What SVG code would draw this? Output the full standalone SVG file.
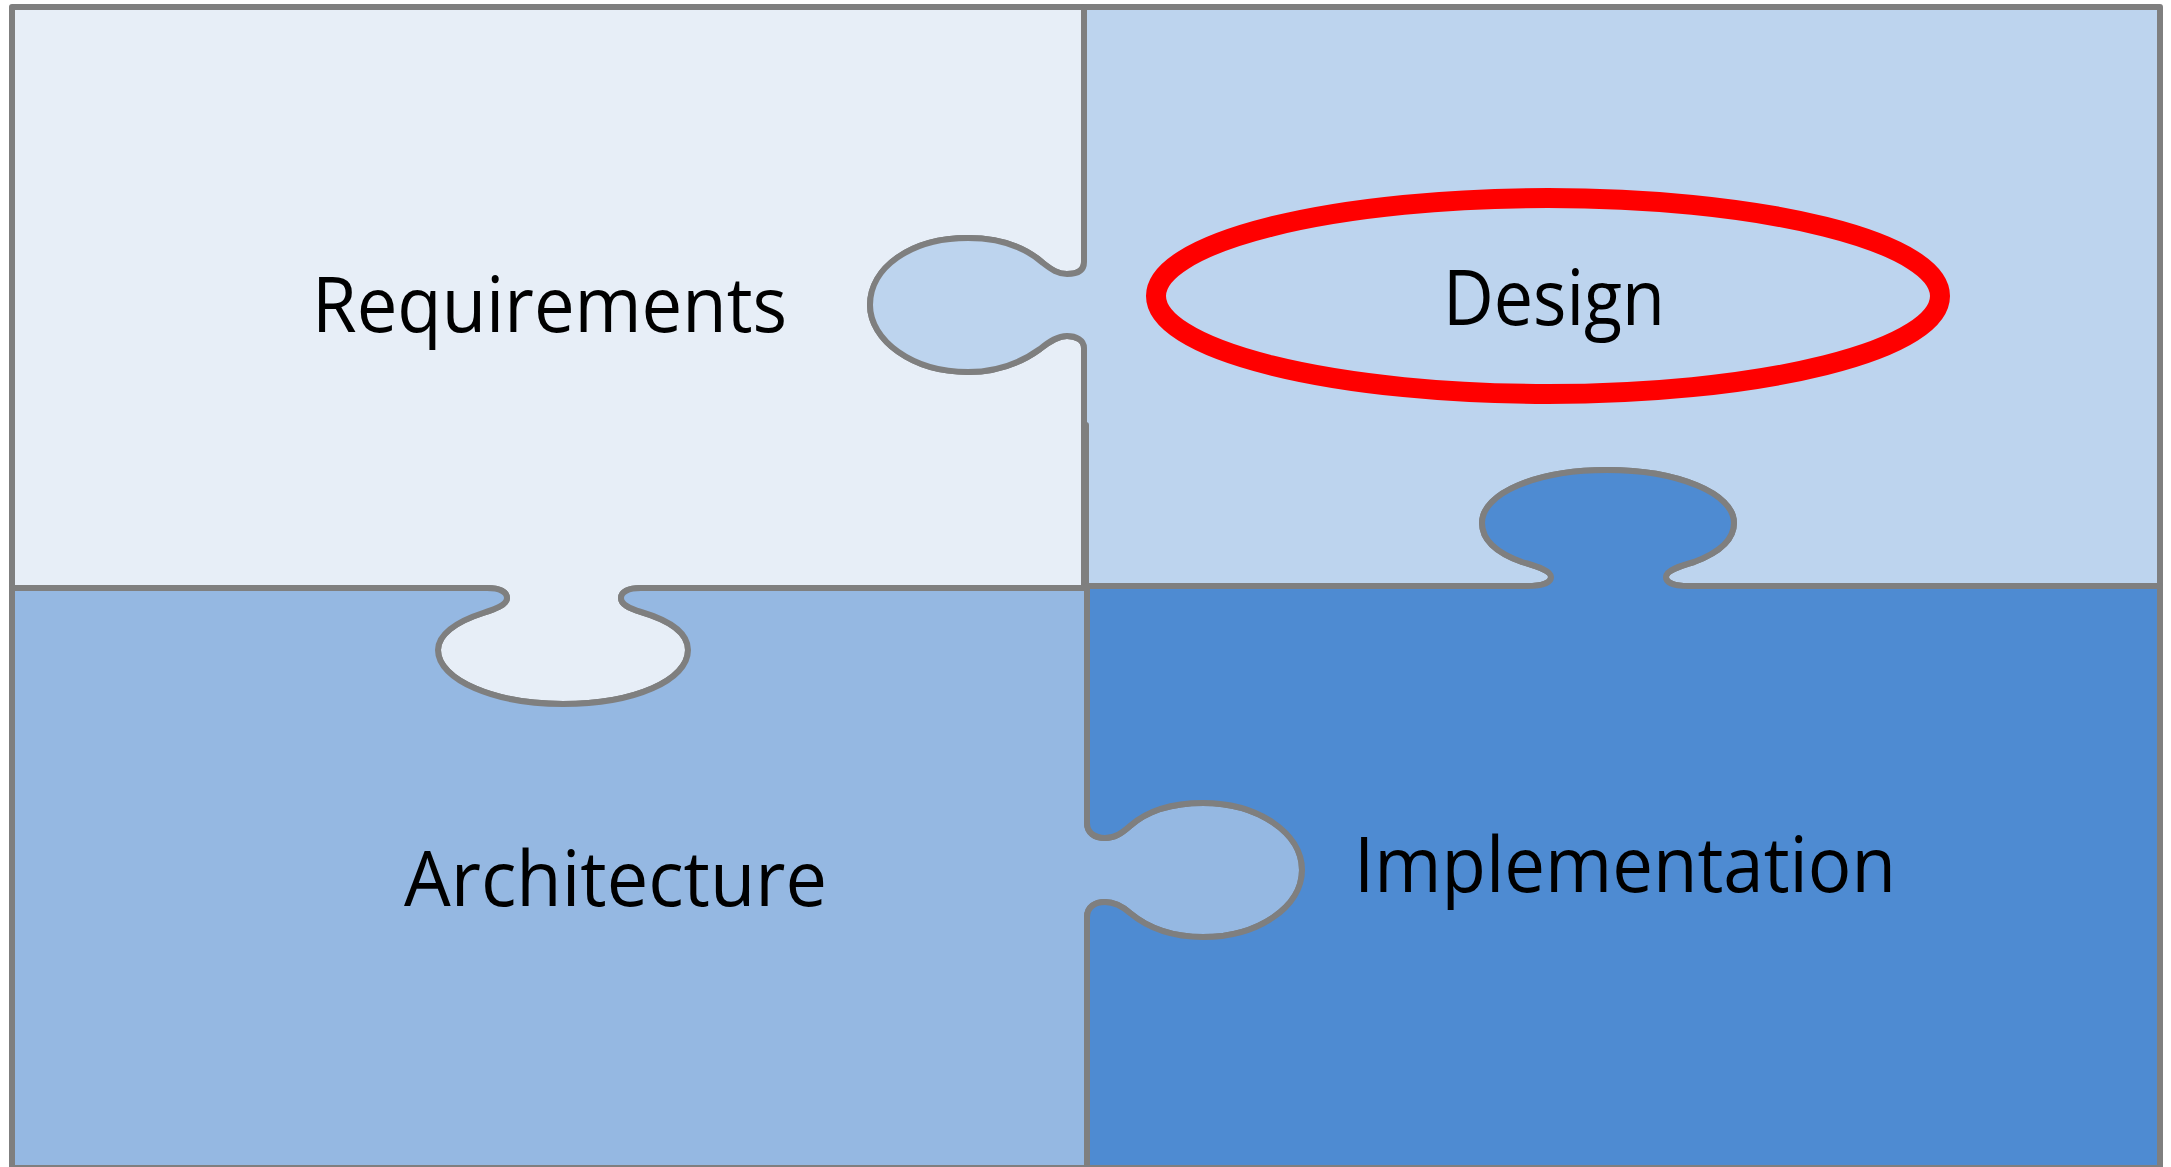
<svg xmlns="http://www.w3.org/2000/svg" width="2171" height="1167" viewBox="0 0 2171 1167">
<style>
.piece{stroke:#7F7F7F;stroke-width:6;stroke-linejoin:round}
.lbl{font-family:"Open Sans","Liberation Sans",sans-serif;font-size:76px;fill:#000}
</style>
<rect x="0" y="0" width="2171" height="1167" fill="#FFFFFF"/>
<g id="requirements">
<path class="piece" fill="#E7EEF7" d="M 12 7 L 1084 7 L 1084 262 C 1084 272, 1075 274, 1067 274 C 1058 274, 1052 270, 1043 263 C 1025 247, 1000 238, 968 238 C 910 238, 870 268, 870 305 C 870 340, 912 372, 968 372 C 1000 372, 1022 362, 1040 349 C 1050 341, 1058 336, 1067 336 C 1076 336, 1084 340, 1084 348 L 1084 588 L 641 588 C 628 588, 621 592, 621 598 C 621 604, 628 608, 641 612 C 668 620, 688 632, 688 650 C 688 680, 635 704, 563 704 C 495 704, 438 680, 438 650 C 438 635, 455 622, 483 613 C 495 609, 507 605, 507 598 C 507 592, 500 588, 487 588 L 12 588 Z"/>
<text class="lbl" x="312" y="332" textLength="475" lengthAdjust="spacingAndGlyphs">Requirements</text>
</g>
<g id="design">
<path class="piece" fill="#BDD4EE" d="M 1084 7 L 2160 7 L 2160 586 L 1688 586 C 1675 586, 1666 583, 1666 577 C 1666 570, 1680 566, 1694 562 C 1718 553, 1734 540, 1734 523 C 1734 493, 1677 470, 1607 470 C 1537 470, 1482 493, 1482 523 C 1482 540, 1497 553, 1522 562 C 1535 566, 1551 570, 1551 577 C 1551 583, 1542 586, 1527 586 L 1086 586 L 1086 425 L 1084 425 L 1084 348 C 1084 340, 1076 336, 1067 336 C 1058 336, 1050 341, 1040 349 C 1022 362, 1000 372, 968 372 C 912 372, 870 340, 870 305 C 870 268, 910 238, 968 238 C 1000 238, 1025 247, 1043 263 C 1052 270, 1058 274, 1067 274 C 1075 274, 1084 272, 1084 262 Z"/>
<ellipse cx="1548" cy="296" rx="392" ry="98" fill="none" stroke="#FF0000" stroke-width="20"/>
<text class="lbl" x="1443" y="325" textLength="222" lengthAdjust="spacingAndGlyphs">Design</text>
</g>
<g id="architecture">
<path class="piece" fill="#95B8E2" d="M 12 588 L 487 588 C 500 588, 507 592, 507 598 C 507 605, 495 609, 483 613 C 455 622, 438 635, 438 650 C 438 680, 495 704, 563 704 C 635 704, 688 680, 688 650 C 688 632, 668 620, 641 612 C 628 608, 621 604, 621 598 C 621 592, 628 588, 641 588 L 1087 588 L 1087 823 C 1087 833, 1095 838, 1105 838 C 1115 838, 1122 833, 1130 826 C 1148 810, 1172 803, 1203 803 C 1258 803, 1302 833, 1302 870 C 1302 907, 1258 937, 1203 937 C 1172 937, 1148 928, 1130 913 C 1122 906, 1115 902, 1105 902 C 1095 902, 1087 907, 1087 917 L 1087 1168 L 12 1168 Z"/>
<text class="lbl" x="404" y="906" textLength="423" lengthAdjust="spacingAndGlyphs">Architecture</text>
</g>
<g id="implementation">
<path class="piece" fill="#4E8BD2" d="M 1087 586 L 1527 586 C 1542 586, 1551 583, 1551 577 C 1551 570, 1535 566, 1522 562 C 1497 553, 1482 540, 1482 523 C 1482 493, 1537 470, 1607 470 C 1677 470, 1734 493, 1734 523 C 1734 540, 1718 553, 1694 562 C 1680 566, 1666 570, 1666 577 C 1666 583, 1675 586, 1688 586 L 2160 586 L 2160 1168 L 1087 1168 L 1087 917 C 1087 907, 1095 902, 1105 902 C 1115 902, 1122 906, 1130 913 C 1148 928, 1172 937, 1203 937 C 1258 937, 1302 907, 1302 870 C 1302 833, 1258 803, 1203 803 C 1172 803, 1148 810, 1130 826 C 1122 833, 1115 838, 1105 838 C 1095 838, 1087 833, 1087 823 Z"/>
<text class="lbl" x="1354" y="892" textLength="542" lengthAdjust="spacingAndGlyphs">Implementation</text>
</g>
<g id="connectors"></g>
</svg>
